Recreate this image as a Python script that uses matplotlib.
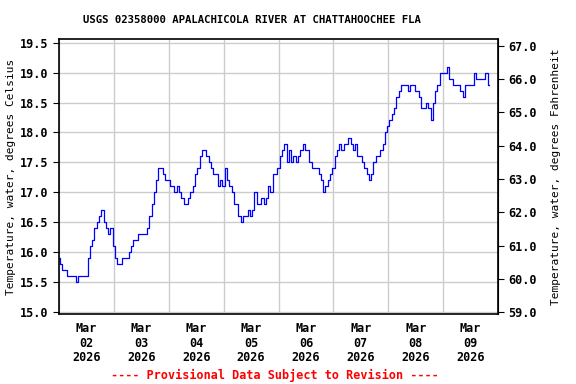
import matplotlib
matplotlib.use("Agg")
import matplotlib.pyplot as plt
import matplotlib.dates as mdates
import matplotlib.ticker as mticker
import numpy as np
import datetime as dt

# hourly water temperature, degC, starting Mar 02 2026 00:00
start = dt.datetime(2026, 3, 2, 0, 0)
temp_c = [
    15.9, 15.8, 15.7, 15.7, 15.6, 15.6, 15.6, 15.6, 15.5, 15.6, 15.6, 15.6,
    15.6, 15.9, 16.1, 16.2, 16.4, 16.5, 16.6, 16.7, 16.5, 16.4, 16.3, 16.4,
    16.1, 15.9, 15.8, 15.8, 15.9, 15.9, 15.9, 16.0, 16.1, 16.2, 16.2, 16.3,
    16.3, 16.3, 16.3, 16.4, 16.6, 16.8, 17.0, 17.2, 17.4, 17.4, 17.3, 17.2,
    17.2, 17.1, 17.1, 17.0, 17.1, 17.0, 16.9, 16.8, 16.8, 16.9, 17.0, 17.1,
    17.3, 17.4, 17.6, 17.7, 17.7, 17.6, 17.5, 17.4, 17.3, 17.3, 17.1, 17.2,
    17.1, 17.4, 17.2, 17.1, 17.0, 16.8, 16.8, 16.6, 16.5, 16.6, 16.6, 16.7,
    16.6, 16.7, 17.0, 16.8, 16.8, 16.9, 16.8, 16.9, 17.1, 17.0, 17.3, 17.3,
    17.4, 17.6, 17.7, 17.8, 17.5, 17.7, 17.5, 17.6, 17.5, 17.6, 17.7, 17.8,
    17.7, 17.7, 17.5, 17.4, 17.4, 17.4, 17.3, 17.2, 17.0, 17.1, 17.2, 17.3,
    17.4, 17.6, 17.7, 17.8, 17.7, 17.8, 17.8, 17.9, 17.8, 17.7, 17.8, 17.6,
    17.6, 17.5, 17.4, 17.3, 17.2, 17.3, 17.5, 17.6, 17.6, 17.7, 17.8, 18.0,
    18.1, 18.2, 18.3, 18.4, 18.6, 18.7, 18.8, 18.8, 18.8, 18.7, 18.8, 18.8,
    18.7, 18.7, 18.6, 18.4, 18.4, 18.5, 18.4, 18.2, 18.5, 18.7, 18.8, 19.0,
    19.0, 19.0, 19.1, 18.9, 18.9, 18.8, 18.8, 18.8, 18.7, 18.6, 18.8, 18.8,
    18.8, 18.8, 19.0, 18.9, 18.9, 18.9, 18.9, 19.0, 18.8,
]
times = [start + dt.timedelta(hours=i) for i in range(len(temp_c))]

title = "USGS 02358000 APALACHICOLA RIVER AT CHATTAHOOCHEE FLA"
ylabel_c = "Temperature, water, degrees Celsius"
ylabel_f = "Temperature, water, degrees Fahrenheit"
note = "---- Provisional Data Subject to Revision ----"
c_ticks = [15.0, 15.5, 16.0, 16.5, 17.0, 17.5, 18.0, 18.5, 19.0, 19.5]
f_ticks = [59, 60, 61, 62, 63, 64, 65, 66, 67]

plt.rcParams['font.family'] = 'DejaVu Sans Mono'
plt.rcParams['font.weight'] = 'bold'
plt.rcParams['font.size'] = 7.5

fig = plt.figure(figsize=(5.76, 3.84), dpi=100)
ax = fig.add_axes([59/576, 1-314/384, (498-59)/576, (314-39)/384])

ax.plot(times, temp_c, color='#0000ff', lw=0.9, drawstyle='steps-mid')

ax.set_xlim(start, start + dt.timedelta(days=8))
ax.set_ylim(14.97, 19.56)
ax.set_yticks(c_ticks)
ax.yaxis.set_major_formatter(mticker.FormatStrFormatter('%.1f'))

ax.xaxis.set_major_locator(mdates.DayLocator())
ax.xaxis.set_major_formatter(mticker.NullFormatter())
ax.xaxis.set_minor_locator(mdates.HourLocator(byhour=[12]))
ax.xaxis.set_minor_formatter(mdates.DateFormatter('%b\n%d\n%Y'))
ax.tick_params(axis='x', which='both', length=0, pad=6)
ax.tick_params(axis='x', which='minor', labelsize=8.5)
for lab in ax.xaxis.get_minorticklabels():
    lab.set_linespacing(1.15)
ax.tick_params(axis='y', length=4, labelsize=8.5)

ax.grid(True, which='major', color='#cccccc', lw=1)
ax.set_axisbelow(True)
for s in ax.spines.values():
    s.set_linewidth(1.2)

ax.set_ylabel(ylabel_c, fontsize=8, labelpad=3)

sec = ax.secondary_yaxis('right', functions=(lambda c: c*9/5+32, lambda f: (f-32)*5/9))
sec.set_yticks(f_ticks)
sec.yaxis.set_major_formatter(mticker.FormatStrFormatter('%.1f'))
sec.tick_params(length=4, labelsize=8.5)
sec.set_ylabel(ylabel_f, fontsize=8, labelpad=10)

fig.text(252/576, 1-20/384, title, ha='center', va='center', fontsize=7.7)
fig.text(275/576, 1-375/384, note, ha='center', va='center', color='red', fontsize=8.5)

fig.savefig("out.png", dpi=100)
